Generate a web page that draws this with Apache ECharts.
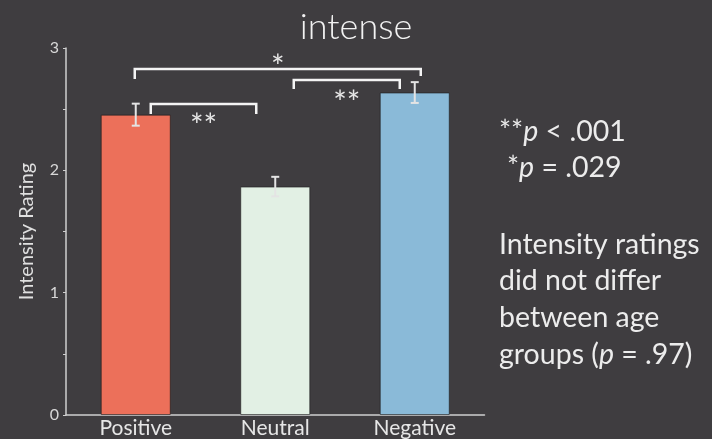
<!DOCTYPE html>
<html>
<head>
<meta charset="utf-8">
<script src="https://cdn.jsdelivr.net/npm/echarts@6/dist/echarts.min.js"></script>
<style>
  html, body { margin: 0; padding: 0; background: #3f3d40; }
  #chart { width: 712px; height: 439px; }
</style>
</head>
<body>
<div id="chart"></div>
<script>
// Mean intensity rating per emotion category, with standard error
const categories = ['Positive', 'Neutral', 'Negative'];
const means = [2.455, 1.867, 2.636];
const errors = [0.09, 0.08, 0.085];
const barColors = ['#ec705a', '#e2f0e4', '#8abad8'];

// Pairwise comparisons drawn as brackets above the bars
const bracketFrom = [0, 1, 0];
const bracketTo = [1, 2, 2];
const bracketLevel = [2.543, 2.739, 2.829];
const bracketStars = ['**', '**', '*'];

// Notes printed beside the plot
const noteLines = ['Intensity ratings', 'did not differ', 'between age', 'groups ({i|p} = .97)'];

const FONT = 'Lato, "Open Sans", sans-serif';
const chart = echarts.init(document.getElementById('chart'), null, { renderer: 'canvas' });

// pixel tweaks for each bracket: [left end shift, right end shift, left leg, right leg, label dy]
const bracketShape = [
  [15, -19, 10, 10, 17],
  [18.5, -15, 9, 9, 18],
  [-1, 6, 10, 7, -7]
];

const richStyles = {
  a: { fill: '#ececec', fontSize: 28.5, fontFamily: FONT },
  i: { fill: '#ececec', fontSize: 28.5, fontFamily: FONT, fontStyle: 'italic' }
};

const option = {
  backgroundColor: '#3f3d40',
  animation: false,
  title: {
    text: 'intense',
    left: 'center',
    top: 4,
    textStyle: { color: '#f2f2f2', fontSize: 36, fontWeight: 300, fontFamily: FONT }
  },
  grid: { left: 66, right: 227.5, top: 48, bottom: 22.3 },
  xAxis: {
    type: 'category',
    data: categories,
    axisLine: { lineStyle: { color: '#cfcfcf', width: 1.5 } },
    axisTick: { show: false },
    axisLabel: { color: '#e6e6e6', fontSize: 21, fontFamily: FONT, margin: 3 }
  },
  yAxis: {
    type: 'value',
    min: 0,
    max: 3,
    interval: 0.5,
    name: 'Intensity Rating',
    nameLocation: 'middle',
    nameGap: 29,
    nameTextStyle: { color: '#e0e0e0', fontSize: 20, fontFamily: FONT },
    axisLine: { show: true, lineStyle: { color: '#cfcfcf', width: 1.5 } },
    axisTick: { show: true, length: 3, lineStyle: { color: '#cfcfcf' } },
    splitLine: { show: false },
    axisLabel: {
      color: '#d8d8d8', fontSize: 16, fontFamily: FONT, margin: 7,
      formatter: v => (Number.isInteger(v) ? String(v) : '')
    }
  },
  series: [
    {
      type: 'bar',
      barWidth: 70,
      data: means.map((m, i) => ({
        value: m,
        itemStyle: { color: barColors[i], borderColor: 'rgba(20,20,20,0.55)', borderWidth: 1 }
      })),
      z: 2
    },
    {
      // error bars
      type: 'custom',
      z: 5,
      data: means.map((m, i) => [i, m - errors[i], m + errors[i]]),
      renderItem: (params, api) => {
        const lo = api.coord([api.value(0), api.value(1)]);
        const hi = api.coord([api.value(0), api.value(2)]);
        const x = lo[0], cap = 4;
        const style = { stroke: '#e4e4e4', lineWidth: 2 };
        return {
          type: 'group',
          children: [
            { type: 'line', shape: { x1: x, y1: lo[1], x2: x, y2: hi[1] }, style },
            { type: 'line', shape: { x1: x - cap, y1: lo[1], x2: x + cap, y2: lo[1] }, style },
            { type: 'line', shape: { x1: x - cap, y1: hi[1], x2: x + cap, y2: hi[1] }, style }
          ]
        };
      }
    },
    {
      // significance brackets
      type: 'custom',
      z: 6,
      data: bracketFrom.map((f, i) => [f, bracketTo[i], bracketLevel[i], i]),
      renderItem: (params, api) => {
        const k = api.value(3);
        const sh = bracketShape[k];
        const a = api.coord([api.value(0), api.value(2)]);
        const b = api.coord([api.value(1), api.value(2)]);
        const x1 = a[0] + sh[0], x2 = b[0] + sh[1], y = a[1];
        return {
          type: 'group',
          children: [
            {
              type: 'polyline',
              shape: { points: [[x1, y + sh[2]], [x1, y], [x2, y], [x2, y + sh[3]]] },
              style: { stroke: '#f4f4f4', lineWidth: 2.5, fill: null }
            },
            {
              type: 'text',
              style: {
                text: bracketStars[k], x: (x1 + x2) / 2, y: y + sh[4] + 6,
                fill: '#e6e6e6', font: '32px ' + FONT, align: 'center', verticalAlign: 'middle'
              }
            }
          ]
        };
      }
    }
  ],
  graphic: [
    {
      type: 'text', left: 499, top: 117,
      style: { text: '{a|**}{i|p}{a| < .001}', rich: richStyles }
    },
    {
      type: 'text', left: 507, top: 153,
      style: { text: '{a|*}{i|p}{a| = .029}', rich: richStyles }
    }
  ].concat(noteLines.map((t, i) => ({
    type: 'text', left: 499, top: 230 + i * 36.7,
    style: {
      text: '{a|' + t.replace('{i|p}', '}{i|p}{a|') + '}',
      rich: richStyles
    }
  })))
};

chart.setOption(option);
</script>
</body>
</html>
